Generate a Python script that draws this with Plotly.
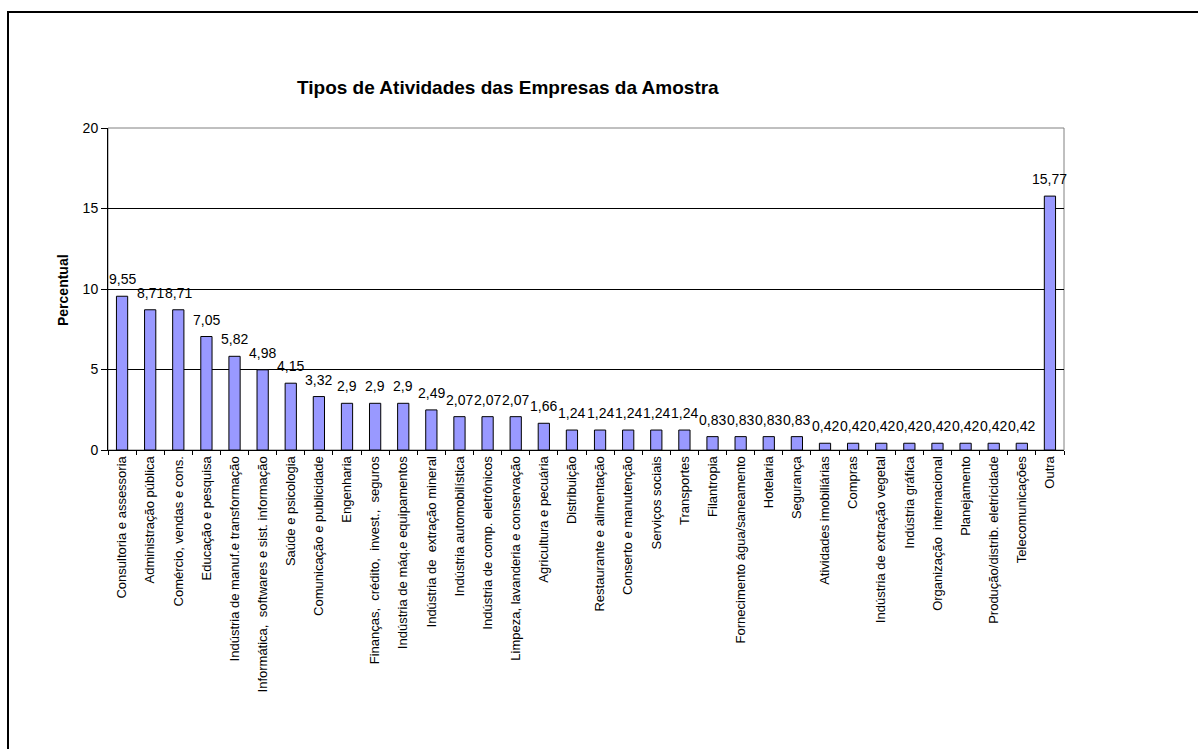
import plotly.graph_objects as go

categories = [
    "Consultoria e assessoria",
    "Administração pública",
    "Comércio, vendas e cons.",
    "Educação e pesquisa",
    "Indústria de manuf.e transformação",
    "Informática,  softwares e sist. informação",
    "Saúde e psicologia",
    "Comunicação e publicidade",
    "Engenharia",
    "Finanças,  crédito,  invest.,  seguros",
    "Indústria de máq.e equipamentos",
    "Indústria de  extração mineral",
    "Indústria automobilística",
    "Indústria de comp. eletrônicos",
    "Limpeza, lavanderia e conservação",
    "Agricultura e pecuária",
    "Distribuição",
    "Restaurante e alimentação",
    "Conserto e manutenção",
    "Serviços sociais",
    "Transportes",
    "Filantropia",
    "Fornecimento água/saneamento",
    "Hotelaria",
    "Segurança",
    "Atividades imobiliárias",
    "Compras",
    "Indústria de extração vegetal",
    "Indústria gráfica",
    "Organização  internacional",
    "Planejamento",
    "Produção/distrib. eletricidade",
    "Telecomunicações",
    "Outra",
]
values = [9.55, 8.71, 8.71, 7.05, 5.82, 4.98, 4.15, 3.32, 2.9, 2.9, 2.9, 2.49,
          2.07, 2.07, 2.07, 1.66, 1.24, 1.24, 1.24, 1.24, 1.24, 0.83, 0.83, 0.83,
          0.83, 0.42, 0.42, 0.42, 0.42, 0.42, 0.42, 0.42, 0.42, 15.77]
labels = [f"{v:g}".replace(".", ",") for v in values]

FONT = "Liberation Sans, Arial, sans-serif"

W, H = 1198, 749
L, R, T, B = 108, 1064, 128, 450
pw, ph = R - L, B - T

def px_x(x):
    return (x - L) / pw

def px_y(y):
    return (B - y) / ph

fig = go.Figure(go.Bar(
    x=categories, y=values,
    marker=dict(color="#9999FF", line=dict(color="black", width=1)),
    hoverinfo="x+y",
))

annotations = [
    dict(x=c, y=v, xref="x", yref="y", text=t, showarrow=False,
         xanchor="center", yanchor="bottom", yshift=7,
         font=dict(size=14, family=FONT, color="black"))
    for c, v, t in zip(categories, values, labels)
]
annotations += [
    dict(text="<b>Tipos de Atividades das Empresas da Amostra</b>",
         xref="paper", yref="paper", x=px_x(508), y=px_y(87),
         xanchor="center", yanchor="middle", showarrow=False,
         font=dict(size=19, family=FONT, color="black")),
    dict(text="<b>Percentual</b>", textangle=-90,
         xref="paper", yref="paper", x=px_x(63), y=px_y(290),
         xanchor="center", yanchor="middle", showarrow=False,
         font=dict(size=14, family=FONT, color="black")),
]

fig.update_layout(
    width=W, height=H,
    margin=dict(l=L, r=W - R, t=T, b=H - B, pad=0),
    paper_bgcolor="white", plot_bgcolor="white",
    bargap=0.6, showlegend=False,
    font=dict(family=FONT, size=12, color="black"),
    xaxis=dict(
        type="category", tickangle=-90, tickson="boundaries",
        ticks="outside", ticklen=4, tickcolor="black",
        showline=True, linecolor="black", linewidth=1,
        tickfont=dict(size=13, family=FONT), showgrid=False,
        range=[-0.5, len(categories) - 0.5],
    ),
    yaxis=dict(
        range=[0, 20], tickvals=[0, 5, 10, 15, 20],
        ticks="outside", ticklen=6, tickcolor="black",
        showline=True, linecolor="black", linewidth=1,
        showgrid=True, gridcolor="#000000", gridwidth=1,
        tickfont=dict(size=14, family=FONT), zeroline=False,
    ),
    shapes=[
        dict(type="rect", xref="paper", yref="paper", x0=0, x1=1, y0=0, y1=1,
             line=dict(color="#808080", width=1), layer="below"),
        dict(type="rect", xref="paper", yref="paper",
             x0=px_x(8), x1=px_x(W + 20), y0=px_y(H + 20), y1=px_y(12),
             line=dict(color="black", width=2)),
    ],
    annotations=annotations,
)

fig.write_html("out.html")
